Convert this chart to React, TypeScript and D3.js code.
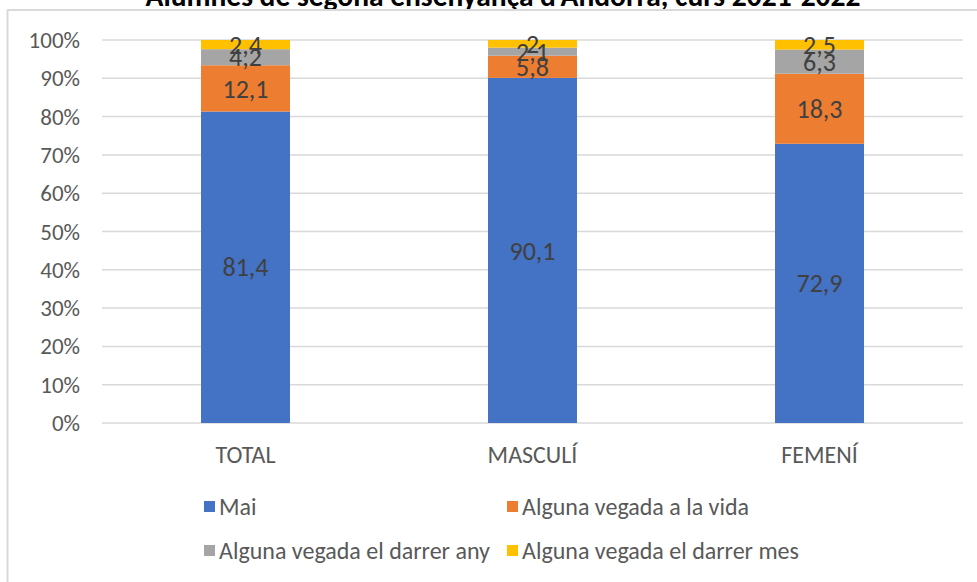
import React from "react";
import * as d3 from "d3";

const title = "Alumnes de segona ensenyança d'Andorra, curs 2021-2022";
const categories = ["TOTAL", "MASCULÍ", "FEMENÍ"];
const seriesNames = [
  "Mai",
  "Alguna vegada a la vida",
  "Alguna vegada el darrer any",
  "Alguna vegada el darrer mes",
];
const mai = [81.4, 90.1, 72.9];
const vida = [12.1, 5.8, 18.3];
const darrerAny = [4.2, 2.1, 6.3];
const darrerMes = [2.4, 2, 2.5];
const yTicks = [0, 0.1, 0.2, 0.3, 0.4, 0.5, 0.6, 0.7, 0.8, 0.9, 1];
const colors = ["#4472C4", "#ED7D31", "#A5A5A5", "#FFC000"];

const W = 977;
const H = 582;
const FONT = "Carlito, Calibri, Lato, 'Open Sans', sans-serif";

export default function App() {
  const seriesValues = [mai, vida, darrerAny, darrerMes];
  const rows = categories.map((c, i) => {
    const r: any = { cat: c };
    seriesNames.forEach((s, k) => (r[s] = seriesValues[k][i]));
    return r;
  });
  const stacked = d3.stack<any>().keys(seriesNames).offset(d3.stackOffsetExpand)(rows);

  const x = d3.scaleBand().domain(categories).range([102, 963]).paddingInner(0.69).paddingOuter(0.345);
  const y = d3.scaleLinear().domain([0, 1]).range([423, 40]);
  const fmt = (v: number) => String(v).replace(".", ",");

  const legend = [
    { x: 204, y: 507 },
    { x: 507, y: 507 },
    { x: 204, y: 551 },
    { x: 507, y: 551 },
  ];

  return (
    <svg width={W} height={H} style={{ position: "absolute", left: 0, top: 0, background: "#fff" }} fontFamily={FONT}>
      <rect x={0} y={0} width={W} height={H} fill="#fff" />
      <text x={503} y={6} textAnchor="middle" fontWeight="bold" fontSize={29.5} fill="#000">
        {title}
      </text>
      <line x1={7.5} x2={7.5} y1={10} y2={H} stroke="#d9d9d9" strokeWidth={2} />
      <line x1={7} x2={W} y1={10} y2={10} stroke="#d9d9d9" strokeWidth={2} />
      {yTicks.map((t) => (
        <g key={t}>
          <line x1={102} x2={963} y1={y(t)} y2={y(t)} stroke="#d9d9d9" strokeWidth={1.5} />
          <text x={80} y={y(t)} dy="0.35em" textAnchor="end" fontSize={23} fill="#595959">
            {Math.round(t * 100)}%
          </text>
        </g>
      ))}
      {stacked.map((s, k) => (
        <g key={s.key}>
          {s.map((d, i) => (
            <rect
              key={i}
              x={x(categories[i])}
              width={x.bandwidth()}
              y={y(d[1])}
              height={y(d[0]) - y(d[1])}
              fill={colors[k]}
            />
          ))}
        </g>
      ))}
      {stacked.map((s, k) => (
        <g key={"l" + s.key}>
          {s.map((d, i) => (
            <text
              key={i}
              x={(x(categories[i]) as number) + x.bandwidth() / 2}
              y={(y(d[0]) + y(d[1])) / 2}
              dy="0.35em"
              textAnchor="middle"
              fontSize={26}
              fill="#404040"
            >
              {fmt(seriesValues[k][i])}
            </text>
          ))}
        </g>
      ))}
      {categories.map((c) => (
        <text key={c} x={(x(c) as number) + x.bandwidth() / 2} y={455} dy="0.35em" textAnchor="middle" fontSize={24} fill="#595959">
          {c}
        </text>
      ))}
      {seriesNames.map((s, k) => (
        <g key={"lg" + s}>
          <rect x={legend[k].x} y={legend[k].y - 6} width={11} height={11} fill={colors[k]} />
          <text x={legend[k].x + 15} y={legend[k].y} dy="0.35em" fontSize={24} fill="#595959">
            {s}
          </text>
        </g>
      ))}
    </svg>
  );
}
